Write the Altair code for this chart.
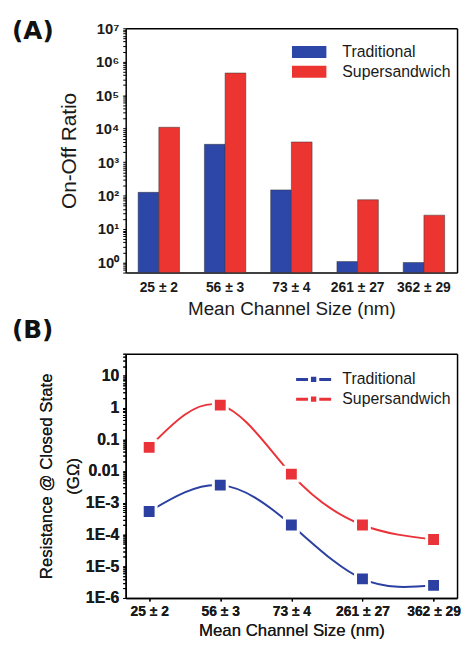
import altair as alt
import pandas as pd

# ---- data ----
categories = ["25 ± 2", "56 ± 3", "73 ± 4", "261 ± 27", "362 ± 29"]
series = ["Traditional", "Supersandwich"]
ratio_traditional = [125, 3400, 148, 1.07, 1.0]
ratio_supersandwich = [11000, 460000, 4000, 75, 26]
res_traditional = [5.3e-4, 3.6e-3, 2.0e-4, 4.0e-6, 2.5e-6]
res_supersandwich = [0.056, 1.2, 8.0e-3, 2.0e-4, 7.0e-5]
bar_colors = ["#2c47a8", "#ec3431"]
line_colors = ["#2b40a0", "#e93338"]

FONT = "Liberation Sans"
TXT = "#1a1a1a"
W, H = 335, 247

dfA = pd.DataFrame({
    "size": categories * 2,
    "series": [s for s in series for _ in categories],
    "ratio": ratio_traditional + ratio_supersandwich,
})
dfB = pd.DataFrame({
    "size": categories * 2,
    "series": [s for s in series for _ in categories],
    "res": res_traditional + res_supersandwich,
})
dfB["curve"] = dfB["series"]

IS_POW = "abs(log(datum.value)/LN10 - round(log(datum.value)/LN10)) < 0.001"
EXP = "round(log(datum.value)/LN10)"

EDGE = dict(labels=False, ticks=False, title=None, grid=False, domain=True,
            domainColor="black", domainWidth=1.5)


def frame(df, field):
    # invisible layer that only contributes the top and right edges of the box
    return alt.Chart(df).mark_point(opacity=0).encode(
        x=alt.X("size:N", sort=categories, axis=alt.Axis(orient="top", **EDGE)),
        y=alt.Y(f"{field}:Q", axis=alt.Axis(orient="right", **EDGE)),
    )


# ---------------- Panel A ----------------
xA = alt.X(
    "size:N", sort=categories,
    scale=alt.Scale(paddingInner=0.375, paddingOuter=0.1875),
    axis=alt.Axis(orient="bottom", title="Mean Channel Size (nm)", labelAngle=0, ticks=False,
                  tickSize=0, domain=True, domainColor="black", domainWidth=1.5,
                  labelFont=FONT, labelFontSize=14, labelFontWeight="bold", labelColor=TXT,
                  labelPadding=8, titleFont=FONT, titleFontSize=19, titleFontWeight="normal",
                  titleColor=TXT, titlePadding=5),
)
yA = alt.Y(
    "ratio:Q", stack=None,
    scale=alt.Scale(type="log", domain=[0.5, 1e7], nice=False),
    axis=alt.Axis(
        orient="left", title="On-Off Ratio", grid=False, domain=True, domainColor="black",
        domainWidth=1.5, tickCount=100, labelOverlap=False,
        labelExpr=f"({IS_POW}) ? '10' + ['⁰','¹','²','³','⁴','⁵','⁶','⁷'][{EXP}] : ''",
        tickSize=3, tickColor="black", tickWidth=1,
        labelFont=FONT, labelFontSize=15, labelFontWeight="bold", labelColor=TXT, labelPadding=4,
        titleFont=FONT, titleFontSize=21, titleFontWeight="normal", titleColor=TXT, titlePadding=16,
    ),
)

bars = alt.Chart(dfA).mark_bar(stroke="#333333", strokeWidth=0.5).encode(
    x=xA,
    xOffset=alt.XOffset("series:N", sort=series, scale=alt.Scale(paddingInner=0, paddingOuter=0)),
    y=yA,
    color=alt.Color(
        "series:N", sort=series,
        scale=alt.Scale(domain=series, range=bar_colors),
        legend=alt.Legend(
            title=None, orient="none", legendX=177.5, legendY=16,
            symbolType="M-2.9,-1L2.9,-1L2.9,1L-2.9,1Z", symbolSize=144, symbolStrokeWidth=0,
            symbolOpacity=1, labelFont=FONT, labelFontSize=16, labelColor=TXT,
            labelOffset=25.5, rowPadding=4, padding=0,
        ),
    ),
)
labelA = alt.Chart(pd.DataFrame({"t": ["(A)"]})).mark_text(
    align="left", baseline="top", font="DejaVu Sans", fontSize=25, fontWeight="bold", color="#111"
).encode(text="t:N", x=alt.value(-115), y=alt.value(-9))

panelA = alt.layer(bars, labelA, frame(dfA, "ratio")).properties(width=W, height=H)

# ---------------- Panel B ----------------
xB = alt.X(
    "size:N", sort=categories,
    scale=alt.Scale(type="point", padding=0.33),
    axis=alt.Axis(orient="bottom", title="Mean Channel Size (nm)", labelAngle=0, tickSize=3,
                  tickColor="black", tickWidth=1.2, domain=True, domainColor="black",
                  domainWidth=1.5,
                  labelFont=FONT, labelFontSize=14, labelFontWeight="bold", labelColor=TXT,
                  labelPadding=4, titleFont=FONT, titleFontSize=17, titleFontWeight="normal",
                  titleColor=TXT, titlePadding=4),
)
yB = alt.Y(
    "res:Q",
    scale=alt.Scale(type="log", domain=[1e-6, 50], nice=False),
    axis=alt.Axis(
        orient="left", title=["Resistance @ Closed State", "(GΩ)"], grid=False, domain=True,
        domainColor="black", domainWidth=1.5, tickCount=100, labelOverlap=False,
        labelExpr=(f"({IS_POW}) ? ({EXP} == 1 ? '10' : {EXP} == 0 ? '1' : {EXP} == -1 ? '0.1' : "
                   f"{EXP} == -2 ? '0.01' : '1E' + {EXP}) : ''"),
        tickSize=3, tickColor="black", tickWidth=1,
        labelFont=FONT, labelFontSize=16, labelFontWeight="bold", labelColor=TXT, labelPadding=4,
        titleFont=FONT, titleFontSize=17, titleFontWeight="normal", titleColor=TXT,
        titlePadding=3, titleLineHeight=27,
    ),
)

lines = alt.Chart(dfB).mark_line(interpolate="natural", strokeWidth=2).encode(
    x=xB, y=yB,
    stroke=alt.Stroke("curve:N", sort=series, scale=alt.Scale(domain=series, range=line_colors), legend=None),
)
points = alt.Chart(dfB).mark_point(shape="square", filled=True, size=196, stroke="white",
                                   strokeWidth=3, opacity=1).encode(
    x=xB, y=yB,
    fill=alt.Fill(
        "series:N", sort=series,
        scale=alt.Scale(domain=series, range=line_colors),
        legend=alt.Legend(
            title=None, orient="none", legendX=182, legendY=18,
            symbolType=("M-5.9,-0.5L-1.9,-0.5L-1.9,0.5L-5.9,0.5Z"
                        "M-0.9,-0.9L0.9,-0.9L0.9,0.9L-0.9,0.9Z"
                        "M1.9,-0.5L5.9,-0.5L5.9,0.5L1.9,0.5Z"),
            symbolSize=36, symbolStrokeWidth=0, symbolOpacity=1,
            labelFont=FONT, labelFontSize=16, labelColor=TXT,
            labelOffset=21, rowPadding=4, padding=0,
        ),
    ),
)
labelB = alt.Chart(pd.DataFrame({"t": ["(B)"]})).mark_text(
    align="left", baseline="top", font="DejaVu Sans", fontSize=25, fontWeight="bold", color="#111"
).encode(text="t:N", x=alt.value(-115), y=alt.value(-36))

panelB = alt.layer(lines, points, labelB, frame(dfB, "res")).properties(width=W, height=H)

chart = alt.vconcat(panelA, panelB, spacing=0).resolve_legend(
    color="independent", fill="independent"
).configure_view(stroke=None).properties(
    padding={"left": 4, "top": 8, "right": 0, "bottom": 0}
)

chart.save("out.html", embed_options={"renderer": "svg", "actions": False})
